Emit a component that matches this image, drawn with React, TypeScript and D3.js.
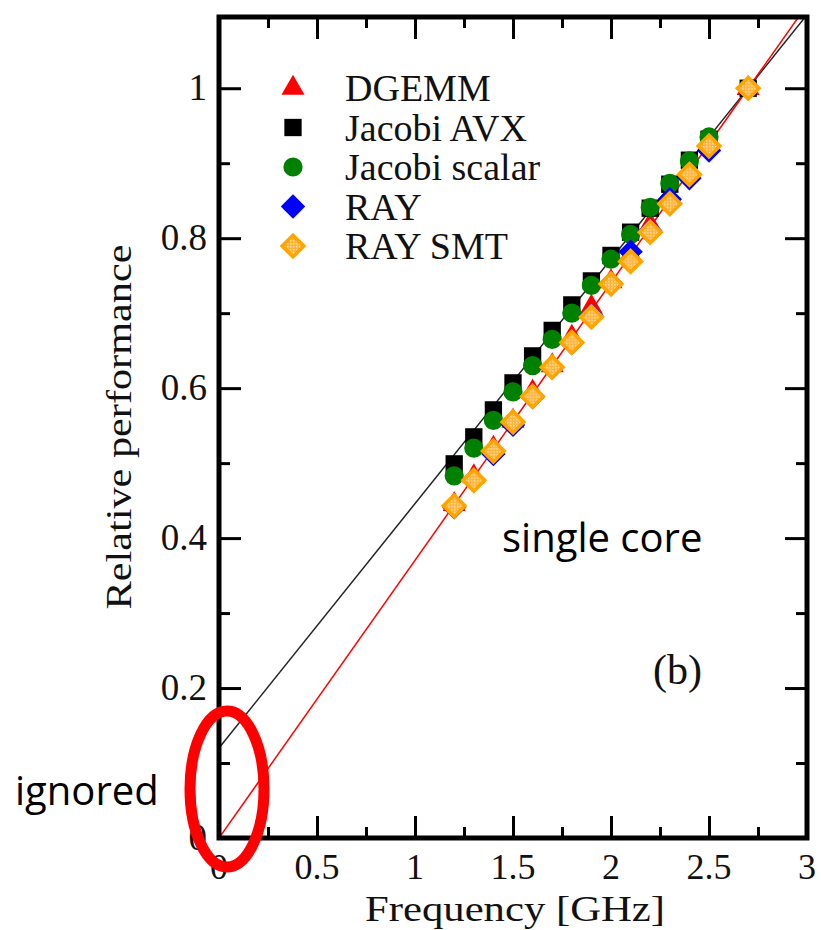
import React, { useRef, useEffect } from 'react';
import * as d3 from 'd3';

// frequencies in GHz
const freqs = [1.2, 1.3, 1.4, 1.5, 1.6, 1.7, 1.8, 1.9, 2.0, 2.1, 2.2, 2.3, 2.4, 2.5, 2.7];

const dgemm = [0.445, 0.482, 0.52, 0.556, 0.595, 0.63, 0.668, 0.708, 0.742, 0.778, 0.818, 0.852, 0.888, 0.925, 1.0];
const jacobiAvx = [0.499, 0.535, 0.571, 0.607, 0.643, 0.677, 0.711, 0.743, 0.777, 0.808, 0.84, 0.872, 0.904, 0.932, 1.0];
const jacobiScalar = [0.483, 0.52, 0.557, 0.595, 0.63, 0.665, 0.7, 0.737, 0.772, 0.805, 0.841, 0.873, 0.903, 0.935, 1.0];
const ray = [0.441, 0.478, 0.512, 0.551, 0.588, 0.627, 0.66, 0.697, 0.74, 0.782, 0.81, 0.852, 0.88, 0.917, 1.0];
const raySmt = [0.443, 0.477, 0.516, 0.555, 0.589, 0.628, 0.661, 0.695, 0.739, 0.769, 0.808, 0.846, 0.885, 0.923, 1.0];

// fit lines: [x, y] endpoints
const blackFit: [number, number][] = [[0, 0.12], [3, 1.098]];
const redFit: [number, number][] = [[0, 0], [3, 1.111]];

const xTicks = [0, 0.5, 1, 1.5, 2, 2.5, 3];
const xTickLabels = ['0', '0.5', '1', '1.5', '2', '2.5', '3'];
const xMinor = [0.25, 0.75, 1.25, 1.75, 2.25, 2.75];
const yTicks = [0, 0.2, 0.4, 0.6, 0.8, 1];
const yTickLabels = ['0', '0.2', '0.4', '0.6', '0.8', '1'];
const yMinor = [0.1, 0.3, 0.5, 0.7, 0.9];

const seriesNames = ['DGEMM', 'Jacobi AVX', 'Jacobi scalar', 'RAY', 'RAY SMT'];

const SERIF = '"Liberation Serif", "DejaVu Serif", serif';
const SANS = '"Open Sans", "Noto Sans", sans-serif';

export default function App() {
  const svgRef = useRef<SVGSVGElement>(null);

  useEffect(() => {
    if (!svgRef.current) return;
    const width = 821;
    const height = 930;
    const svg = d3.select(svgRef.current);
    svg.selectAll('*').remove();

    const x = d3.scaleLinear().domain([0, 3]).range([219, 807]);
    const y = d3.scaleLinear().domain([0, 1.095]).range([838, 17]);

    svg.append('rect').attr('width', width).attr('height', height).attr('fill', '#fff');

    const defs = svg.append('defs');
    defs.append('clipPath').attr('id', 'plotclip')
      .append('rect')
      .attr('x', x(0)).attr('y', y(1.095))
      .attr('width', x(3) - x(0)).attr('height', y(0) - y(1.095));

    // checkered fill for RAY SMT diamonds
    const pat = defs.append('pattern').attr('id', 'smtfill')
      .attr('width', 3).attr('height', 3).attr('patternUnits', 'userSpaceOnUse');
    pat.append('rect').attr('width', 3).attr('height', 3).attr('fill', '#ffb33a');
    pat.append('rect').attr('width', 1.5).attr('height', 1.5).attr('fill', '#ffe2b0');

    // ticks (inward) via d3 axes
    const tickStyle = (g: d3.Selection<SVGGElement, unknown, null, undefined>) => {
      g.select('.domain').remove();
      g.selectAll('line').attr('stroke', '#000').attr('stroke-width', 3);
      g.selectAll('text').remove();
    };
    const major = 22;
    const minor = 11;
    svg.append('g').attr('transform', `translate(0,${y(0)})`)
      .call(d3.axisBottom(x).tickValues(xTicks).tickSize(-major)).call(tickStyle);
    svg.append('g').attr('transform', `translate(0,${y(0)})`)
      .call(d3.axisBottom(x).tickValues(xMinor).tickSize(-minor)).call(tickStyle);
    svg.append('g').attr('transform', `translate(0,${y(1.095)})`)
      .call(d3.axisTop(x).tickValues(xTicks).tickSize(-major)).call(tickStyle);
    svg.append('g').attr('transform', `translate(0,${y(1.095)})`)
      .call(d3.axisTop(x).tickValues(xMinor).tickSize(-minor)).call(tickStyle);
    svg.append('g').attr('transform', `translate(${x(0)},0)`)
      .call(d3.axisLeft(y).tickValues(yTicks).tickSize(-major)).call(tickStyle);
    svg.append('g').attr('transform', `translate(${x(0)},0)`)
      .call(d3.axisLeft(y).tickValues(yMinor).tickSize(-minor)).call(tickStyle);
    svg.append('g').attr('transform', `translate(${x(3)},0)`)
      .call(d3.axisRight(y).tickValues(yTicks).tickSize(-major)).call(tickStyle);
    svg.append('g').attr('transform', `translate(${x(3)},0)`)
      .call(d3.axisRight(y).tickValues(yMinor).tickSize(-minor)).call(tickStyle);

    // tick labels
    svg.append('g').selectAll('text').data(xTicks).enter().append('text')
      .attr('x', d => x(d)).attr('y', 879)
      .attr('text-anchor', 'middle')
      .style('font-family', SERIF).style('font-size', '36px').style('fill', '#111')
      .text((_, i) => xTickLabels[i]);
    svg.append('g').selectAll('text').data(yTicks).enter().append('text')
      .attr('x', 207).attr('y', d => y(d) + 12)
      .attr('text-anchor', 'end')
      .style('font-family', SERIF).style('font-size', '37px').style('fill', '#111')
      .text((_, i) => yTickLabels[i]);

    // axis titles
    svg.append('text')
      .attr('x', 515).attr('y', 921)
      .attr('text-anchor', 'middle')
      .attr('textLength', 300).attr('lengthAdjust', 'spacingAndGlyphs')
      .style('font-family', SERIF).style('font-size', '36px').style('fill', '#111')
      .text('Frequency [GHz]');
    svg.append('text')
      .attr('transform', `translate(131,427) rotate(-90)`)
      .attr('text-anchor', 'middle')
      .attr('textLength', 365).attr('lengthAdjust', 'spacingAndGlyphs')
      .style('font-family', SERIF).style('font-size', '35px').style('fill', '#111')
      .text('Relative performance');

    // fit lines
    const line = d3.line<[number, number]>().x(d => x(d[0])).y(d => y(d[1]));
    const lines = svg.append('g').attr('clip-path', 'url(#plotclip)');
    lines.append('path').attr('d', line(blackFit)).attr('fill', 'none')
      .attr('stroke', '#222').attr('stroke-width', 1.5);
    lines.append('path').attr('d', line(redFit)).attr('fill', 'none')
      .attr('stroke', '#ff0000').attr('stroke-width', 1.5);

    // markers
    const markers = [
      { values: dgemm, path: d3.symbol(d3.symbolTriangle, 230)(), fill: '#ff0000', stroke: 'none', sw: 0 },
      { values: jacobiAvx, path: d3.symbol(d3.symbolSquare, 300)(), fill: '#000', stroke: 'none', sw: 0 },
      { values: jacobiScalar, path: d3.symbol(d3.symbolCircle, 290)(), fill: '#008000', stroke: 'none', sw: 0 },
      { values: ray, path: d3.symbol(d3.symbolDiamond2, 380)(), fill: '#0000ff', stroke: 'none', sw: 0 },
      { values: raySmt, path: d3.symbol(d3.symbolDiamond2, 300)(), fill: 'url(#smtfill)', stroke: '#ffa500', sw: 3.5 },
    ];
    markers.forEach(m => {
      svg.append('g').selectAll('path').data(m.values).enter().append('path')
        .attr('d', m.path)
        .attr('transform', (d, i) => `translate(${x(freqs[i])},${y(d)})`)
        .attr('fill', m.fill).attr('stroke', m.stroke).attr('stroke-width', m.sw);
    });

    // frame
    svg.append('rect')
      .attr('x', x(0)).attr('y', y(1.095))
      .attr('width', x(3) - x(0)).attr('height', y(0) - y(1.095))
      .attr('fill', 'none').attr('stroke', '#000').attr('stroke-width', 5);

    // legend
    const legend = svg.append('g');
    markers.forEach((m, i) => {
      const ly = 88 + i * 39.5;
      legend.append('path').attr('d', m.path)
        .attr('transform', `translate(293,${ly})`)
        .attr('fill', m.fill).attr('stroke', m.stroke).attr('stroke-width', m.sw);
      legend.append('text')
        .attr('x', 345).attr('y', ly + 13)
        .style('font-family', SERIF).style('font-size', '38px').style('fill', '#111')
        .text(seriesNames[i]);
    });

    svg.append('text')
      .attr('x', 653).attr('y', 684)
      .style('font-family', SERIF).style('font-size', '42px').style('fill', '#111')
      .text('(b)');

    // annotations
    svg.append('text')
      .attr('x', 502).attr('y', 552)
      .style('font-family', SANS).style('font-size', '40px').style('fill', '#000')
      .text('single core');
    svg.append('text')
      .attr('x', 15).attr('y', 805)
      .style('font-family', SANS).style('font-size', '40px').style('fill', '#000')
      .text('ignored');
    svg.append('ellipse')
      .attr('cx', 227).attr('cy', 789).attr('rx', 37).attr('ry', 78)
      .attr('fill', 'none').attr('stroke', '#ff0000').attr('stroke-width', 11);
  }, []);

  return (
    <svg ref={svgRef} width={821} height={930}
      style={{ position: 'absolute', left: 0, top: 0, display: 'block' }} />
  );
}
